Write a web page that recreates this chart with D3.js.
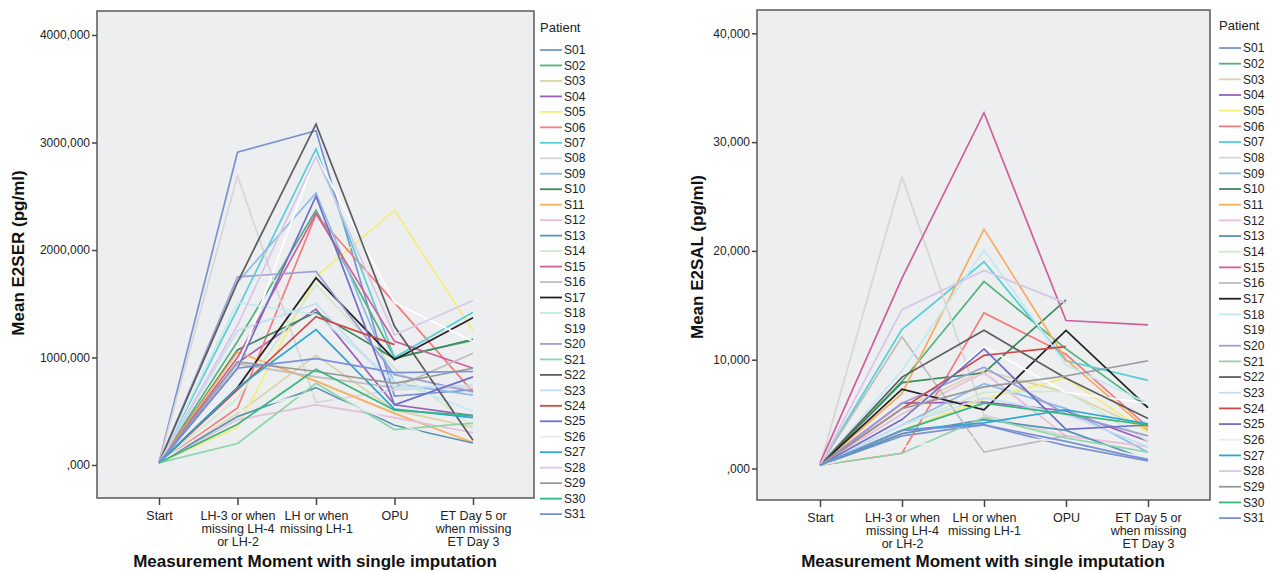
<!DOCTYPE html>
<html>
<head>
<meta charset="utf-8">
<script src="https://cdn.jsdelivr.net/npm/d3@7"></script>
<style>
  body { margin: 0; background: #fff; }
  text { font-family: "Liberation Sans", Arial, sans-serif; fill: #222; }
  .tick text { font-size: 12px; }
  .axis-title { font-weight: bold; font-size: 17px; fill: #111; }
  .legend-title { font-size: 13px; }
  .legend-label { font-size: 12px; }
</style>
</head>
<body>
<svg width="1275" height="572"></svg>
<script>
(function (d3) {
  'use strict';

  const categories = ['Start', 'LH-3', 'LH', 'OPU', 'ET'];
  const categoryLabels = [
    ['Start'],
    ['LH-3 or when', 'missing LH-4', 'or LH-2'],
    ['LH or when', 'missing LH-1'],
    ['OPU'],
    ['ET Day 5 or', 'when missing', 'ET Day 3']
  ];

  const patients = d3.range(1, 32).map(i => 'S' + String(i).padStart(2, '0'));

  const patientColors = [
    '#7b92d2', '#4fb37a', '#d9d3aa', '#9a5fb8', '#f3ec78', '#f47c7c', '#58cdd6', '#d6d6d6',
    '#8bbbe9', '#3a8a5c', '#f7ae5c', '#e5bedb', '#5a92b2', '#cfeacf', '#cf5e9b', '#bdbdbd',
    '#222222', '#c2e9f1', '#ffffff', '#9f9fd6', '#8fd5a9', '#5e5e5e', '#c3ddf4', '#cf4747',
    '#6f6fca', '#ececec', '#2aa7d1', '#d8c6e9', '#999999', '#36b77f', '#7890d8'
  ];

  // Mean E2SER (pg/ml), one row per patient, one value per moment
  const e2serValues = [
    [25, 2910, 3110, 640, 700],
    [20, 1150, 2370, 1000, 1160],
    [30, 480, 1020, 510, 350],
    [20, 950, 1450, 560, 460],
    [20, 350, 1750, 2370, 1250],
    [20, 530, 2330, 1510, 680],
    [20, 1450, 2940, 1000, 1420],
    [20, 2690, 580, 700, 720],
    [20, 1700, 2530, 760, 650],
    [20, 1070, 1420, 990, 1170],
    [20, 1050, 780, 480, 210],
    [20, 420, 560, 440, 300],
    [20, 450, 720, 370, 205],
    [20, 620, 1680, 900, 360],
    [20, 1000, 2340, 1150, 900],
    [20, 940, 820, 720, 1040],
    [20, 720, 1740, 980, 1370],
    [20, 1510, 1400, 780, 500],
    [20, 900, 2880, 1510, 1150],
    [20, 1750, 1800, 840, 680],
    [20, 200, 760, 330, 390],
    [20, 1700, 3170, 1290, 230],
    [20, 1250, 1500, 720, 740],
    [20, 700, 1380, 1120, null],
    [20, 900, 2500, 560, 820],
    [20, 500, 680, 400, 110],
    [20, 720, 1260, 520, 440],
    [20, 1300, 2870, 1210, 1530],
    [20, 960, 870, 760, 900],
    [20, 380, 890, 510, 460],
    [20, 900, 990, 860, 870]
  ];

  // Mean E2SAL (pg/ml), in thousands of the axis unit
  const e2salValues = [
    [0.3, 3.0, 4.0, 2.1, 0.7],
    [0.3, 8.0, 17.2, 11.0, 5.6],
    [0.3, 5.5, 9.0, 7.0, 3.5],
    [0.3, 6.0, 6.1, 5.3, 2.5],
    [0.3, 3.5, 6.4, 8.3, 3.3],
    [0.3, 1.4, 14.3, 10.5, 3.8],
    [0.3, 12.8, 19.0, 9.9, 8.1],
    [0.3, 26.8, 4.9, 3.0, 2.0],
    [0.3, 4.0, 7.8, 5.5, 1.5],
    [0.3, 7.9, 8.8, 15.5, null],
    [0.3, 6.9, 22.0, 10.0, 3.5],
    [0.3, 5.0, 8.8, 3.0, 2.0],
    [0.3, 3.2, 4.5, 3.5, 0.8],
    [0.3, 4.0, 7.0, 7.1, 2.5],
    [0.5, 17.5, 32.7, 13.6, 13.2],
    [0.3, 12.1, 1.5, 3.0, null],
    [0.3, 7.3, 5.4, 12.7, 5.6],
    [0.3, 9.0, 20.1, 9.5, 6.0],
    [0.3, 4.5, 11.2, 7.0, 6.0],
    [0.3, 6.0, 9.3, 5.0, 3.0],
    [0.3, 1.4, 4.7, 2.8, 1.5],
    [0.3, 8.4, 12.7, 8.3, 4.6],
    [0.3, 4.0, 6.5, 5.0, 2.0],
    [0.3, 5.5, 10.4, 11.2, null],
    [0.3, 4.5, 11.0, 3.6, 4.0],
    [0.3, 2.0, 3.0, 2.5, 1.0],
    [0.3, 3.5, 4.2, 5.4, 4.1],
    [0.3, 14.6, 18.2, 15.2, null],
    [0.3, 5.5, 7.5, 8.5, 9.9],
    [0.3, 3.5, 6.0, 5.0, 4.0],
    [0.3, 3.5, 4.0, 2.5, 0.8]
  ];

  const e2serTicks = [0, 1000, 2000, 3000, 4000];
  const e2salTicks = [0, 10, 20, 30, 40];

  const svg = d3.select('svg');
  const tickFormat = d => (d === 0 ? '' : d) + ',000';

  const drawPanel = cfg => {
    const g = svg.append('g');

    g.append('rect')
      .attr('x', cfg.frame.left)
      .attr('y', cfg.frame.top)
      .attr('width', cfg.frame.right - cfg.frame.left)
      .attr('height', cfg.frame.bottom - cfg.frame.top)
      .attr('fill', '#edeef0')
      .attr('stroke', '#5a5a5a')
      .attr('stroke-width', 1.5);

    const xScale = d3.scalePoint()
      .domain(categories)
      .range(cfg.xRange);

    const yScale = d3.scaleLinear()
      .domain([0, cfg.ticks[cfg.ticks.length - 1]])
      .range(cfg.yRange);

    const yAxis = d3.axisLeft(yScale)
      .tickValues(cfg.ticks)
      .tickFormat(tickFormat)
      .tickSize(5)
      .tickPadding(2);

    const yAxisG = g.append('g')
      .attr('transform', `translate(${cfg.frame.left},0)`)
      .call(yAxis);
    yAxisG.select('.domain').remove();
    yAxisG.selectAll('.tick line').attr('stroke', '#444').attr('stroke-width', 1.5);
    yAxisG.selectAll('.tick text').attr('fill', '#333');

    const xAxis = d3.axisBottom(xScale)
      .tickSize(7)
      .tickFormat('');

    const xAxisG = g.append('g')
      .attr('transform', `translate(0,${cfg.frame.bottom})`)
      .call(xAxis);
    xAxisG.select('.domain').remove();
    xAxisG.selectAll('.tick line').attr('stroke', '#444').attr('stroke-width', 1.5);

    xAxisG.selectAll('.tick').each(function (d, i) {
      const t = d3.select(this).append('text')
        .attr('text-anchor', 'middle')
        .attr('fill', '#333')
        .style('font-size', '12.5px')
        .attr('y', 22);
      categoryLabels[i].forEach((line, j) => {
        t.append('tspan').attr('x', 0).attr('dy', j === 0 ? 0 : 13).text(line);
      });
    });

    const line = d3.line()
      .defined(d => d.v != null)
      .x(d => xScale(d.c))
      .y(d => yScale(d.v));

    g.append('g').selectAll('path')
      .data(cfg.values.map((row, i) => ({
        id: patients[i],
        color: patientColors[i],
        points: row.map((v, j) => ({ c: categories[j], v }))
      })))
      .enter().append('path')
        .attr('d', d => line(d.points))
        .attr('fill', 'none')
        .attr('stroke', d => d.color)
        .attr('stroke-width', 1.7)
        .attr('stroke-linejoin', 'miter');

    g.append('text')
      .attr('class', 'axis-title')
      .attr('text-anchor', 'middle')
      .attr('transform', `translate(${cfg.yTitleX},${cfg.yTitleY}) rotate(-90)`)
      .text(cfg.yTitle);

    g.append('text')
      .attr('class', 'axis-title')
      .attr('text-anchor', 'middle')
      .attr('x', cfg.xTitleX)
      .attr('y', 567)
      .text('Measurement Moment with single imputation');

    const legend = g.append('g')
      .attr('transform', `translate(${cfg.legendX},0)`);

    legend.append('text')
      .attr('class', 'legend-title')
      .attr('y', cfg.legendTop - 18)
      .text('Patient');

    const item = legend.selectAll('g.item')
      .data(patients)
      .enter().append('g')
        .attr('class', 'item')
        .attr('transform', (d, i) => `translate(0,${cfg.legendTop + i * cfg.legendStep})`);

    item.append('line')
      .attr('x1', 0).attr('x2', 22)
      .attr('stroke', (d, i) => patientColors[i])
      .attr('stroke-width', 1.8);

    item.append('text')
      .attr('class', 'legend-label')
      .attr('x', 24)
      .attr('dy', '0.35em')
      .attr('fill', '#333')
      .text(d => d);
  };

  drawPanel({
    values: e2serValues,
    ticks: e2serTicks,
    frame: { left: 97, right: 534, top: 11, bottom: 498 },
    xRange: [159, 473],
    yRange: [465, 35],
    yTitle: 'Mean E2SER (pg/ml)',
    yTitleX: 24,
    yTitleY: 253,
    xTitleX: 315,
    legendX: 540,
    legendTop: 50,
    legendStep: 15.47
  });

  drawPanel({
    values: e2salValues,
    ticks: e2salTicks,
    frame: { left: 757, right: 1210, top: 10, bottom: 500 },
    xRange: [820, 1148],
    yRange: [468.5, 33.3],
    yTitle: 'Mean E2SAL (pg/ml)',
    yTitleX: 703,
    yTitleY: 257,
    xTitleX: 983,
    legendX: 1219,
    legendTop: 48,
    legendStep: 15.67
  });

}(d3));
</script>
</body>
</html>
